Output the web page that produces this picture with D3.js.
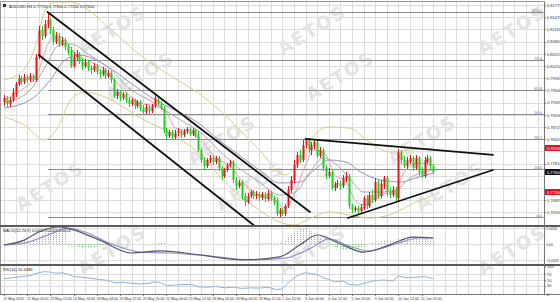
<!DOCTYPE html>
<html>
<head>
<meta charset="utf-8">
<script src="https://cdn.jsdelivr.net/npm/d3@7/dist/d3.min.js"></script>
<style>
  body { margin: 0; background: #fff; }
  svg { display: block; font-family: "Liberation Sans", sans-serif; }
  .axis path, .axis line { stroke: #777; shape-rendering: crispEdges; }
  .axis text { font-size: 4px; fill: #333; font-family: "Liberation Sans", sans-serif; }
</style>
</head>
<body>
<div id="chart"></div>
<script>
// AUDUSD H4 candles, one entry per bar
const open = [0.79350,0.79450,0.79300,0.79400,0.79550,0.79800,0.79950,0.79850,0.79975,0.79900,
  0.80000,0.79900,0.80475,0.81150,0.81000,0.81300,0.81400,0.81150,0.80850,0.81000,
  0.80800,0.80900,0.80725,0.80650,0.80250,0.80475,0.80550,0.80350,0.80250,0.80350,
  0.80200,0.80150,0.80250,0.80100,0.80050,0.80150,0.80000,0.80075,0.79900,0.79500,
  0.79600,0.79450,0.79550,0.79400,0.79300,0.79400,0.79250,0.79350,0.79200,0.79100,
  0.79225,0.79125,0.79250,0.79400,0.79300,0.79200,0.78650,0.78500,0.78600,0.78475,
  0.78575,0.78625,0.78525,0.78625,0.78675,0.78550,0.78650,0.78550,0.78150,0.77900,
  0.77750,0.77900,0.77950,0.77850,0.77950,0.77700,0.77500,0.77650,0.77775,0.77850,
  0.77400,0.77250,0.77350,0.77000,0.76850,0.77000,0.77100,0.77000,0.77050,0.76950,
  0.77050,0.76925,0.77075,0.76950,0.76900,0.76550,0.76650,0.76550,0.76750,0.77150,
  0.77400,0.77775,0.78025,0.77900,0.78275,0.78400,0.78150,0.78250,0.78350,0.78000,
  0.78150,0.77700,0.77500,0.77600,0.77200,0.77300,0.77300,0.77250,0.77400,0.77500,
  0.76750,0.76650,0.76700,0.76625,0.76700,0.76950,0.76750,0.77025,0.76900,0.77350,
  0.77000,0.77250,0.77450,0.77100,0.77025,0.77150,0.76950,0.78100,0.77900,0.77750,
  0.77850,0.77950,0.77700,0.77950,0.77650,0.77500,0.77850,0.77950,0.77750];
const high = [0.79525,0.79500,0.79475,0.79700,0.79850,0.80025,0.80000,0.80050,0.80025,0.80075,
  0.80050,0.80550,0.81250,0.81250,0.81400,0.81600,0.81450,0.81225,0.81100,0.81075,
  0.80975,0.80950,0.80800,0.80725,0.80600,0.80650,0.80600,0.80450,0.80425,0.80400,
  0.80275,0.80325,0.80300,0.80175,0.80225,0.80200,0.80150,0.80125,0.79950,0.79675,
  0.79650,0.79600,0.79600,0.79475,0.79450,0.79425,0.79400,0.79400,0.79275,0.79300,
  0.79275,0.79300,0.79525,0.79500,0.79375,0.79250,0.78700,0.78650,0.78650,0.78650,
  0.78700,0.78675,0.78675,0.78725,0.78725,0.78700,0.78675,0.78625,0.78200,0.77975,
  0.77950,0.78025,0.78000,0.78000,0.78000,0.77750,0.77700,0.77825,0.77900,0.77900,
  0.77475,0.77400,0.77400,0.77075,0.77075,0.77150,0.77150,0.77125,0.77100,0.77100,
  0.77100,0.77150,0.77125,0.77000,0.76975,0.76700,0.76700,0.76800,0.77250,0.77500,
  0.77900,0.78100,0.78150,0.78400,0.78450,0.78450,0.78350,0.78400,0.78400,0.78225,
  0.78200,0.77775,0.77700,0.77650,0.77350,0.77400,0.77375,0.77525,0.77600,0.77550,
  0.76800,0.76750,0.76750,0.76800,0.77000,0.77025,0.77100,0.77150,0.77450,0.77400,
  0.77400,0.77500,0.77500,0.77200,0.77250,0.77225,0.78175,0.78150,0.78000,0.77975,
  0.78025,0.78000,0.78025,0.78000,0.77725,0.77975,0.78025,0.78000,0.77800];
const low = [0.79250,0.79225,0.79225,0.79350,0.79475,0.79750,0.79775,0.79800,0.79825,0.79850,
  0.79850,0.79850,0.80425,0.80900,0.80950,0.81200,0.81050,0.80775,0.80800,0.80725,
  0.80750,0.80650,0.80525,0.80200,0.80200,0.80400,0.80300,0.80150,0.80200,0.80125,
  0.80050,0.80100,0.80025,0.79950,0.80000,0.79925,0.79950,0.79825,0.79450,0.79425,
  0.79375,0.79400,0.79325,0.79225,0.79250,0.79175,0.79200,0.79125,0.79025,0.79050,
  0.79050,0.79075,0.79200,0.79250,0.79150,0.78575,0.78425,0.78450,0.78400,0.78425,
  0.78500,0.78450,0.78475,0.78550,0.78500,0.78500,0.78450,0.78100,0.77825,0.77675,
  0.77700,0.77825,0.77775,0.77800,0.77625,0.77400,0.77450,0.77600,0.77725,0.77325,
  0.77150,0.77200,0.76900,0.76750,0.76800,0.76950,0.76925,0.76925,0.76875,0.76900,
  0.76850,0.76875,0.76875,0.76775,0.76500,0.76475,0.76500,0.76500,0.76700,0.77075,
  0.77325,0.77700,0.77825,0.77850,0.78200,0.78075,0.78025,0.78175,0.77950,0.77950,
  0.77625,0.77425,0.77450,0.77150,0.77125,0.77200,0.77150,0.77200,0.77350,0.76675,
  0.76575,0.76600,0.76550,0.76575,0.76650,0.76675,0.76700,0.76825,0.76850,0.76925,
  0.76950,0.77175,0.77000,0.76950,0.76975,0.76850,0.76850,0.77800,0.77700,0.77675,
  0.77800,0.77625,0.77650,0.77500,0.77450,0.77450,0.77800,0.77675,0.77550];
const close = [0.79450,0.79300,0.79400,0.79600,0.79800,0.79950,0.79850,0.79975,0.79900,0.80000,
  0.79900,0.80475,0.81150,0.81000,0.81300,0.81400,0.81150,0.80850,0.81000,0.80800,
  0.80900,0.80725,0.80600,0.80250,0.80475,0.80550,0.80350,0.80250,0.80350,0.80200,
  0.80150,0.80250,0.80100,0.80050,0.80150,0.80000,0.80075,0.79900,0.79500,0.79600,
  0.79450,0.79550,0.79400,0.79300,0.79400,0.79250,0.79350,0.79200,0.79100,0.79225,
  0.79125,0.79250,0.79450,0.79300,0.79200,0.78650,0.78500,0.78600,0.78475,0.78575,
  0.78625,0.78525,0.78625,0.78675,0.78550,0.78650,0.78500,0.78150,0.77900,0.77750,
  0.77900,0.77950,0.77850,0.77950,0.77700,0.77500,0.77650,0.77775,0.77850,0.77400,
  0.77250,0.77350,0.77000,0.76850,0.77000,0.77100,0.77000,0.77050,0.76950,0.77050,
  0.76925,0.77075,0.76950,0.76850,0.76550,0.76650,0.76550,0.76750,0.77150,0.77400,
  0.77775,0.78025,0.77900,0.78275,0.78400,0.78150,0.78275,0.78350,0.78000,0.78150,
  0.77700,0.77500,0.77600,0.77200,0.77300,0.77325,0.77250,0.77450,0.77500,0.76750,
  0.76650,0.76700,0.76625,0.76725,0.76950,0.76750,0.77025,0.76900,0.77350,0.77000,
  0.77300,0.77450,0.77100,0.77025,0.77150,0.76950,0.78100,0.77900,0.77750,0.77900,
  0.77950,0.77700,0.77950,0.77600,0.77500,0.77900,0.77950,0.77750,0.77600];

// time axis, one label every 8 bars
const timeLabels = ["11 May 2015","12 May 04:00","13 May 12:00","14 May 20:00","18 May 04:00",
  "19 May 12:00","20 May 20:00","22 May 04:00","25 May 12:00","26 May 20:00","28 May 04:00",
  "29 May 12:00","1 Jun 20:00","3 Jun 04:00","4 Jun 12:00","5 Jun 20:00","9 Jun 04:00",
  "10 Jun 12:00","11 Jun 20:00"];
const priceTicks = [0.81775,0.81470,0.81165,0.80860,0.80555,0.80250,0.79945,0.79640,0.79335,
  0.79030,0.78725,0.78420,0.78115,0.77810,0.77505,0.77200,0.76895,0.76590];
const macdTicks = [0.0053, 0, -0.0055];
const rsiTicks = [100, 70, 50, 30, 0];

// moving averages: [bar, price]
const maFast = [[0,0.7940],[6,0.7965],[10,0.7990],[12,0.8015],[15,0.80775],[18,0.81025],[21,0.8090],
  [24,0.8060],[30,0.8035],[35,0.8015],[38,0.7990],[42,0.7960],[47,0.79325],[52,0.7925],[56,0.7910],
  [59,0.7870],[64,0.7860],[68,0.7840],[73,0.7795],[78,0.7775],[83,0.77275],[88,0.77025],[93,0.7690],
  [97,0.7670],[100,0.77025],[104,0.77775],[107,0.7815],[111,0.78025],[114,0.77525],[118,0.7735],
  [121,0.7690],[124,0.76775],[130,0.77025],[135,0.7715],[138,0.7760],[143,0.77825],[148,0.77775]];
const maMid = [[0,0.79325],[9,0.7965],[14,0.8020],[19,0.80775],[23,0.8080],[30,0.8050],[37,0.8015],
  [43,0.7970],[50,0.7940],[57,0.79075],[62,0.7885],[68,0.78575],[74,0.7815],[81,0.7770],[88,0.7735],
  [95,0.77025],[100,0.77075],[106,0.7765],[110,0.7795],[114,0.77825],[119,0.7745],[124,0.7710],
  [130,0.7710],[135,0.7715],[140,0.7745],[148,0.7765]];
const maSlow = [[0,0.7920],[9,0.7940],[16,0.7990],[21,0.8040],[26,0.80525],[33,0.8035],[40,0.80025],
  [47,0.7965],[54,0.79325],[61,0.79075],[68,0.78775],[74,0.7840],[81,0.78025],[88,0.7765],[95,0.77325],
  [102,0.7735],[107,0.7765],[112,0.7790],[118,0.7785],[123,0.7760],[130,0.7740],[137,0.7735],
  [142,0.7745],[148,0.77575]];
const bandUpper = [[0,0.7990],[6,0.8010],[11,0.80775],[14,0.8160],[18,0.8185],[23,0.8185],[28,0.8170],
  [37,0.8115],[47,0.80525],[57,0.80025],[68,0.79525],[78,0.7890],[88,0.7815],[97,0.77525],[102,0.7790],
  [107,0.78525],[112,0.78725],[119,0.7870],[126,0.7835],[133,0.7810],[140,0.7815],[148,0.7820]];
const bandLower = [[0,0.78975],[7,0.78775],[14,0.7840],[19,0.78775],[23,0.7940],[28,0.7960],[33,0.79525],
  [40,0.79275],[47,0.7895],[54,0.7870],[61,0.7840],[68,0.78025],[74,0.77525],[81,0.77025],[88,0.7665],
  [95,0.7635],[100,0.76275],[106,0.7645],[112,0.7660],[119,0.76525],[126,0.7645],[133,0.76525],
  [140,0.76775],[148,0.77025]];

// trend lines: [bar, price] -> [bar, price]
const trendLines = [
  [[15, 0.8160], [105.5, 0.7660]],
  [[12, 0.80525], [86, 0.76275]],
  [[104, 0.7843], [168.6, 0.7803]],
  [[118.6, 0.7645], [168.6, 0.7765]]
];
const fibLevels = [100.0, 76.4, 61.8, 50.0, 38.2, 23.6, 0.0];
const fibHigh = 0.8160, fibLow = 0.76475, fibStartBar = 15;
const markerRed = [0.7820, 0.7710];
const lastPrice = 0.7760;

// MACD histogram, one per bar
const macdHist = [0,0,0.0001,
  0.0002,0.0004,0.0006,0.0008,0.0010,0.0012,0.0014,0.0016,0.0020,0.0026,0.0032,0.0038,0.0044,0.0048,0.0052,0.0054,0.0056,0.0055,0.0052,
  -0.0004,-0.0006,-0.0008,-0.0009,-0.0010,-0.0010,-0.0011,-0.0010,-0.0010,-0.0009,-0.0008,-0.0008,-0.0007,-0.0006,-0.0005,-0.0004,
  -0.0003,-0.0002,-0.0002,-0.0001,-0.0001,0,0,0,0,0,0,0,0,0.0001,0.0001,
  0.0003,0.0004,0.0003,
  0,0,0,0,0,0,0,0,0,0,0,0,0,0,0,0,0,0,0,0,0,0,0,0,0,0,0,0,0,0,0,0,
  0.0002,0.0003,0.0003,0.0004,0.0003,0.0003,0.0002,
  0.0004,0.0008,0.0014,0.0022,0.0030,0.0038,0.0044,0.0050,0.0053,0.0052,0.0048,0.0042,0.0036,0.0028,0.0020,0.0012,0.0005,
  -0.0003,-0.0006,-0.0009,-0.0012,-0.0015,-0.0017,-0.0018,-0.0020,-0.0020,-0.0018,-0.0015,-0.0011,-0.0007,-0.0003,
  0.0001,0.0003,0.0005,0.0007,0.0009,0.0010,0.0011,0.0012,0.0013,0.0014,0.0017,0.0020,0.0022,0.0023,0.0023,0.0022,0.0021,0.0020,0.0018,0.0017,0.0016,0.0015,0.0014];
const macdMain = [[0,-0.0003],[7,0.0013],[12,0.0040],[19,0.0057],[24,0.0047],[33,0.0013],[44,-0.0030],
  [54,-0.0023],[68,-0.0037],[82,-0.0053],[95,-0.0043],[102,-0.0003],[108,0.0030],[116,0.0000],
  [124,-0.0027],[133,-0.0003],[141,0.0023],[148,0.0020]];
const macdSignal = [[0,-0.0003],[7,0.0003],[16,0.0033],[22,0.0053],[28,0.0040],[37,0.0000],[47,-0.0027],
  [57,-0.0030],[71,-0.0040],[85,-0.0053],[97,-0.0047],[106,-0.0013],[112,0.0017],[119,-0.0007],
  [126,-0.0023],[135,0.0000],[143,0.0020],[148,0.0020]];
const rsi = [[0,55],[3,58],[6,62],[9,66],[12,76],[14,80],[16,78],[18,74],[20,76],[22,70],[24,62],[27,60],
  [30,56],[33,52],[36,48],[38,40],[41,42],[44,38],[47,36],[50,38],[52,44],[54,40],[56,30],[59,32],[62,34],
  [65,33],[67,26],[70,24],[73,27],[76,22],[79,24],[82,20],[85,22],[88,21],[91,24],[94,16],[96,18],[98,40],
  [100,58],[102,70],[104,76],[106,72],[108,70],[110,58],[112,52],[114,44],[117,46],[119,34],[122,32],
  [125,40],[128,48],[131,50],[134,46],[136,64],[139,58],[142,60],[145,62],[148,55]];

const W = 560, H = 302;
const plotR = 544;
const mainTop = 2, mainBot = 225, macdTop = 227, macdBot = 264, rsiTop = 266, rsiBot = 294;

const svg = d3.select('#chart').append('svg').attr('width', W).attr('height', H);

const x = d3.scaleLinear().domain([0, close.length - 1]).range([4, 433.2]);
const y = d3.scaleLinear().domain([fibLow, fibHigh]).range([217, 12]);
const yMacd = d3.scaleLinear().domain([-0.00667, 0.00567]).range([macdBot, macdTop]);
const yRsi = d3.scaleLinear().domain([0, 100]).range([rsiBot, rsiTop]);

const defs = svg.append('defs');
[['clipMain', mainTop, mainBot], ['clipMacd', macdTop, macdBot], ['clipRsi', rsiTop, rsiBot]].forEach(([id, t, b]) => {
  defs.append('clipPath').attr('id', id).append('rect')
    .attr('x', 0).attr('y', t).attr('width', plotR).attr('height', b - t);
});

// grid
const grid = svg.append('g').attr('stroke', '#dcdcdc').attr('stroke-width', 1).attr('shape-rendering', 'crispEdges');
const lastBar = Math.floor(x.invert(plotR));
d3.range(0, lastBar + 1, 4).forEach(i => {
  grid.append('line').attr('x1', Math.round(x(i)) + 0.5).attr('x2', Math.round(x(i)) + 0.5)
    .attr('y1', mainTop).attr('y2', rsiBot);
});
const hLine = (scale, v) => grid.append('line').attr('x1', 0).attr('x2', plotR)
  .attr('y1', Math.round(scale(v)) + 0.5).attr('y2', Math.round(scale(v)) + 0.5);
priceTicks.forEach(p => hLine(y, p));
macdTicks.forEach(v => hLine(yMacd, v));
[70, 50, 30].forEach(v => hLine(yRsi, v));

// watermark, kept inside the picture
const wm = svg.append('g').attr('fill', '#e3e3e3')
  .attr('font-family', 'DejaVu Sans').attr('font-weight', 'bold').attr('font-size', 18)
  .attr('text-anchor', 'middle');
for (let row = 0; row < 3; row++) {
  for (let col = -1; col < 4; col++) {
    const cx = 112 + col * 200 + (row % 2 ? -90 : 0);
    const cy = 30 + row * 110;
    [[0, 0], [28, 46]].forEach(([dx, dy]) => {
      const px = cx + dx, py = cy + dy;
      if (px < 38 || px > 520 || py < 22 || py > 272) return;
      wm.append('text').attr('transform', `translate(${px},${py}) rotate(-32)`)
        .attr('dy', '0.35em').attr('letter-spacing', 2).text('AETOS');
    });
  }
}

// fibonacci levels
const fib = svg.append('g');
fibLevels.forEach(l => {
  const p = fibLow + (fibHigh - fibLow) * l / 100;
  const yy = Math.round(y(p)) + 0.5;
  fib.append('line').attr('x1', x(fibStartBar)).attr('x2', plotR).attr('y1', yy).attr('y2', yy)
    .attr('stroke', '#8c8c8c').attr('stroke-width', 1).attr('shape-rendering', 'crispEdges');
  fib.append('text').attr('x', plotR - 2).attr('y', yy - 1).attr('text-anchor', 'end')
    .attr('font-size', 4).attr('fill', '#5a6aa0').text(l.toFixed(1));
});

// main panel content
const main = svg.append('g').attr('clip-path', 'url(#clipMain)');
const priceLine = d3.line().x(d => x(d[0])).y(d => y(d[1])).curve(d3.curveMonotoneX);
[[bandUpper, '#d8cd8c'], [bandLower, '#d8cd8c'], [maSlow, '#9a8fc0'], [maMid, '#a8a8b8'], [maFast, '#e3a0a8']]
  .forEach(([data, color]) => {
    main.append('path').datum(data).attr('d', priceLine)
      .attr('fill', 'none').attr('stroke', color).attr('stroke-width', 1);
  });

const bars = close.map((c, i) => ({ i, o: open[i], h: high[i], l: low[i], c }));
const upColor = '#e8141c', downColor = '#1fcf1f';
main.selectAll('rect.wick').data(bars).join('rect').attr('class', 'wick')
  .attr('x', d => Math.round(x(d.i)))
  .attr('y', d => y(d.h))
  .attr('width', 1)
  .attr('height', d => Math.max(1, y(d.l) - y(d.h)))
  .attr('fill', d => d.c >= d.o ? upColor : downColor);
main.selectAll('rect.body').data(bars).join('rect').attr('class', 'body')
  .attr('x', d => Math.round(x(d.i)) - 0.5)
  .attr('y', d => y(Math.max(d.o, d.c)))
  .attr('width', 2)
  .attr('height', d => Math.max(1, Math.abs(y(d.o) - y(d.c))))
  .attr('fill', d => d.c >= d.o ? upColor : downColor);

main.selectAll('line.trend').data(trendLines).join('line').attr('class', 'trend')
  .attr('x1', d => x(d[0][0])).attr('y1', d => y(d[0][1]))
  .attr('x2', d => x(d[1][0])).attr('y2', d => y(d[1][1]))
  .attr('stroke', '#111').attr('stroke-width', 1.8).attr('stroke-linecap', 'round');

// MACD panel
const macd = svg.append('g').attr('clip-path', 'url(#clipMacd)');
macd.selectAll('line.hist').data(macdHist).join('line').attr('class', 'hist')
  .attr('x1', (d, i) => Math.round(x(i)) + 0.5).attr('x2', (d, i) => Math.round(x(i)) + 0.5)
  .attr('y1', yMacd(0)).attr('y2', d => yMacd(d))
  .attr('stroke', d => d >= 0 ? '#ec8d9c' : '#5bd65b').attr('stroke-width', 1)
  .attr('stroke-dasharray', '1,1');
const macdLine = d3.line().x(d => x(d[0])).y(d => yMacd(d[1])).curve(d3.curveMonotoneX);
macd.append('path').datum(macdSignal).attr('d', macdLine).attr('fill', 'none').attr('stroke', '#9a94c8').attr('stroke-width', 1.2);
macd.append('path').datum(macdMain).attr('d', macdLine).attr('fill', 'none').attr('stroke', '#55556f').attr('stroke-width', 1.2);

// RSI panel
const rsiG = svg.append('g').attr('clip-path', 'url(#clipRsi)');
rsiG.append('path').datum(rsi)
  .attr('d', d3.line().x(d => x(d[0])).y(d => yRsi(d[1])))
  .attr('fill', 'none').attr('stroke', '#8eb4da').attr('stroke-width', 1);

// panel borders
const borders = svg.append('g').attr('shape-rendering', 'crispEdges');
borders.append('rect').attr('x', 0.5).attr('y', mainTop - 0.5).attr('width', plotR).attr('height', rsiBot - mainTop + 1)
  .attr('fill', 'none').attr('stroke', '#999');
[mainBot + 0.5, macdBot + 0.5].forEach(yy => {
  borders.append('line').attr('x1', 0).attr('x2', W).attr('y1', yy).attr('y2', yy)
    .attr('stroke', '#5a5a5a').attr('stroke-width', 2);
});
borders.append('line').attr('x1', 0).attr('x2', W).attr('y1', rsiBot + 0.5).attr('y2', rsiBot + 0.5).attr('stroke', '#777');

// axes (price ticks hidden where a marker box sits on the scale)
const markerPrices = markerRed.concat([lastPrice]);
const shownTicks = priceTicks.filter(p => markerPrices.every(m => Math.abs(y(p) - y(m)) > 5));
svg.append('g').attr('class', 'axis').attr('transform', `translate(${plotR},0)`)
  .call(d3.axisRight(y).tickValues(shownTicks).tickSize(2).tickPadding(1).tickFormat(d3.format('.5f')))
  .call(g => g.select('.domain').attr('d', `M0.5,${mainTop}V${rsiBot}`));
svg.append('g').attr('class', 'axis').attr('transform', `translate(${plotR},0)`)
  .call(d3.axisRight(yMacd).tickValues(macdTicks).tickSize(1).tickPadding(1)
    .tickFormat(d => d === 0 ? '0.00' : d3.format('.4f')(d)))
  .call(g => g.select('.domain').remove())
  .call(g => g.selectAll('text').style('font-size', '3.6px'));
svg.append('g').attr('class', 'axis').attr('transform', `translate(${plotR},0)`)
  .call(d3.axisRight(yRsi).tickValues(rsiTicks).tickSize(2).tickPadding(1))
  .call(g => g.select('.domain').remove());
svg.append('g').attr('class', 'axis').attr('transform', `translate(0,${rsiBot})`)
  .call(d3.axisBottom(x).tickValues(timeLabels.map((t, i) => i * 8)).tickSize(2).tickPadding(1)
    .tickFormat((d, i) => timeLabels[i]))
  .call(g => g.select('.domain').remove())
  .call(g => g.selectAll('text').attr('text-anchor', 'start').attr('dx', -1).style('font-size', '3.6px'));

// price markers on the right scale
const marks = svg.append('g');
markerRed.map(p => [p, '#e0141c']).concat([[lastPrice, '#111']]).forEach(([p, color]) => {
  const yy = y(p);
  marks.append('rect').attr('x', plotR + 1).attr('y', yy - 3).attr('width', W - plotR - 1).attr('height', 6).attr('fill', color);
  marks.append('text').attr('x', plotR + 3).attr('y', yy + 1.5).attr('font-size', 4).attr('fill', '#fff')
    .text(d3.format('.5f')(p));
});

// titles
svg.append('rect').attr('x', 3).attr('y', 4).attr('width', 3).attr('height', 3).attr('fill', '#333');
svg.append('text').attr('x', 9).attr('y', 7.5).attr('font-size', 4).attr('fill', '#222')
  .text('AUDUSD,H4  0.77750 0.77800 0.77550 0.77600');
svg.append('text').attr('x', 3).attr('y', macdTop + 5).attr('font-size', 4).attr('fill', '#222')
  .text('MACD(12,26,9) 0.0020 0.0020 0.0014');
svg.append('text').attr('x', 3).attr('y', rsiTop + 5).attr('font-size', 4).attr('fill', '#222')
  .text('RSI(14) 50.4486');
</script>
</body>
</html>
